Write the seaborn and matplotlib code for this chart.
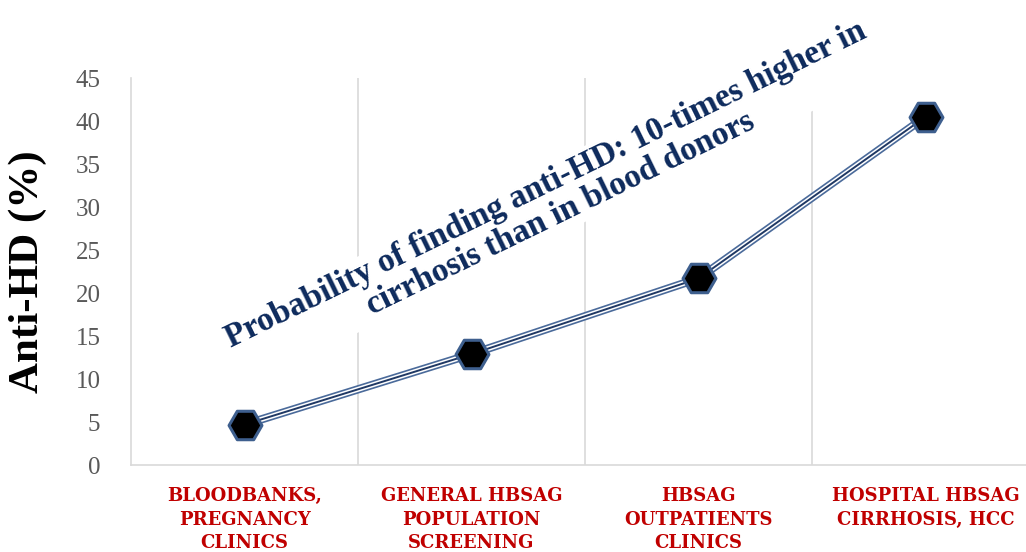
import matplotlib
matplotlib.use("Agg")
import matplotlib.pyplot as plt
import pandas as pd
import seaborn as sns

sns.set_style("white")
plt.rcParams['font.family'] = ['Liberation Serif', 'DejaVu Serif']

# values
categories = ["BLOODBANKS,\nPREGNANCY\nCLINICS",
              "GENERAL HBSAG\nPOPULATION\nSCREENING",
              "HBSAG\nOUTPATIENTS\nCLINICS",
              "HOSPITAL HBSAG\nCIRRHOSIS, HCC"]
anti_hd = [4.7, 12.9, 21.7, 40.5]
y_ticks = [0, 5, 10, 15, 20, 25, 30, 35, 40, 45]
note = ("Probability of finding anti-HD: 10-times higher in\n"
        "cirrhosis than in blood donors")

df = pd.DataFrame({"pos": range(len(categories)), "anti_hd": anti_hd})

fig = plt.figure(figsize=(10.26, 5.52), dpi=100)
ax = fig.add_axes([0.1277, 0.1576, 0.885, 0.701])

# vertical separators between categories
for xb in [0.5, 1.5, 2.5]:
    ax.axvline(xb, color="#d9d9d9", lw=1.2, zorder=0)

# triple-stripe line: steel blue outside, white, navy core
sns.lineplot(data=df, x="pos", y="anti_hd", ax=ax, color="#4a6a9a", lw=6, zorder=2)
sns.lineplot(data=df, x="pos", y="anti_hd", ax=ax, color="white", lw=3.6, zorder=3)
sns.lineplot(data=df, x="pos", y="anti_hd", ax=ax, color="#1f3864", lw=1.4, zorder=4)
sns.scatterplot(data=df, x="pos", y="anti_hd", ax=ax, marker="H", s=560,
                color="black", edgecolor="#3e5f8e", linewidth=2.2, zorder=5)

ax.set_xlim(-0.5, 3.5)
ax.set_ylim(0, 45)
ax.set_yticks(y_ticks)
ax.set_yticklabels([str(v) for v in y_ticks], color="#595959", fontsize=18)
ax.set_xticks(range(len(categories)))
ax.set_xticklabels(categories, color="#c00000", fontsize=13, fontweight="bold",
                   family="DejaVu Serif", linespacing=1.38)
ax.tick_params(axis="y", length=0, pad=22)
ax.tick_params(axis="x", length=0, pad=16)
ax.set_xlabel("")
ax.set_ylabel("Anti-HD (%)", fontsize=31, fontweight="bold", color="black")
ax.yaxis.set_label_coords(-0.093, 0.5)

for side in ["top", "right"]:
    ax.spines[side].set_visible(False)
for side in ["left", "bottom"]:
    ax.spines[side].set_color("#d9d9d9")
    ax.spines[side].set_linewidth(1.2)

ax.text(1.36, 30.9, note, rotation=26, rotation_mode="anchor", ha="center", va="center",
        fontsize=24, fontweight="bold", color="#0d2a5c", linespacing=1.05,
        bbox=dict(facecolor="white", edgecolor="none", pad=2), zorder=6)

fig.savefig("out.png", dpi=100)
